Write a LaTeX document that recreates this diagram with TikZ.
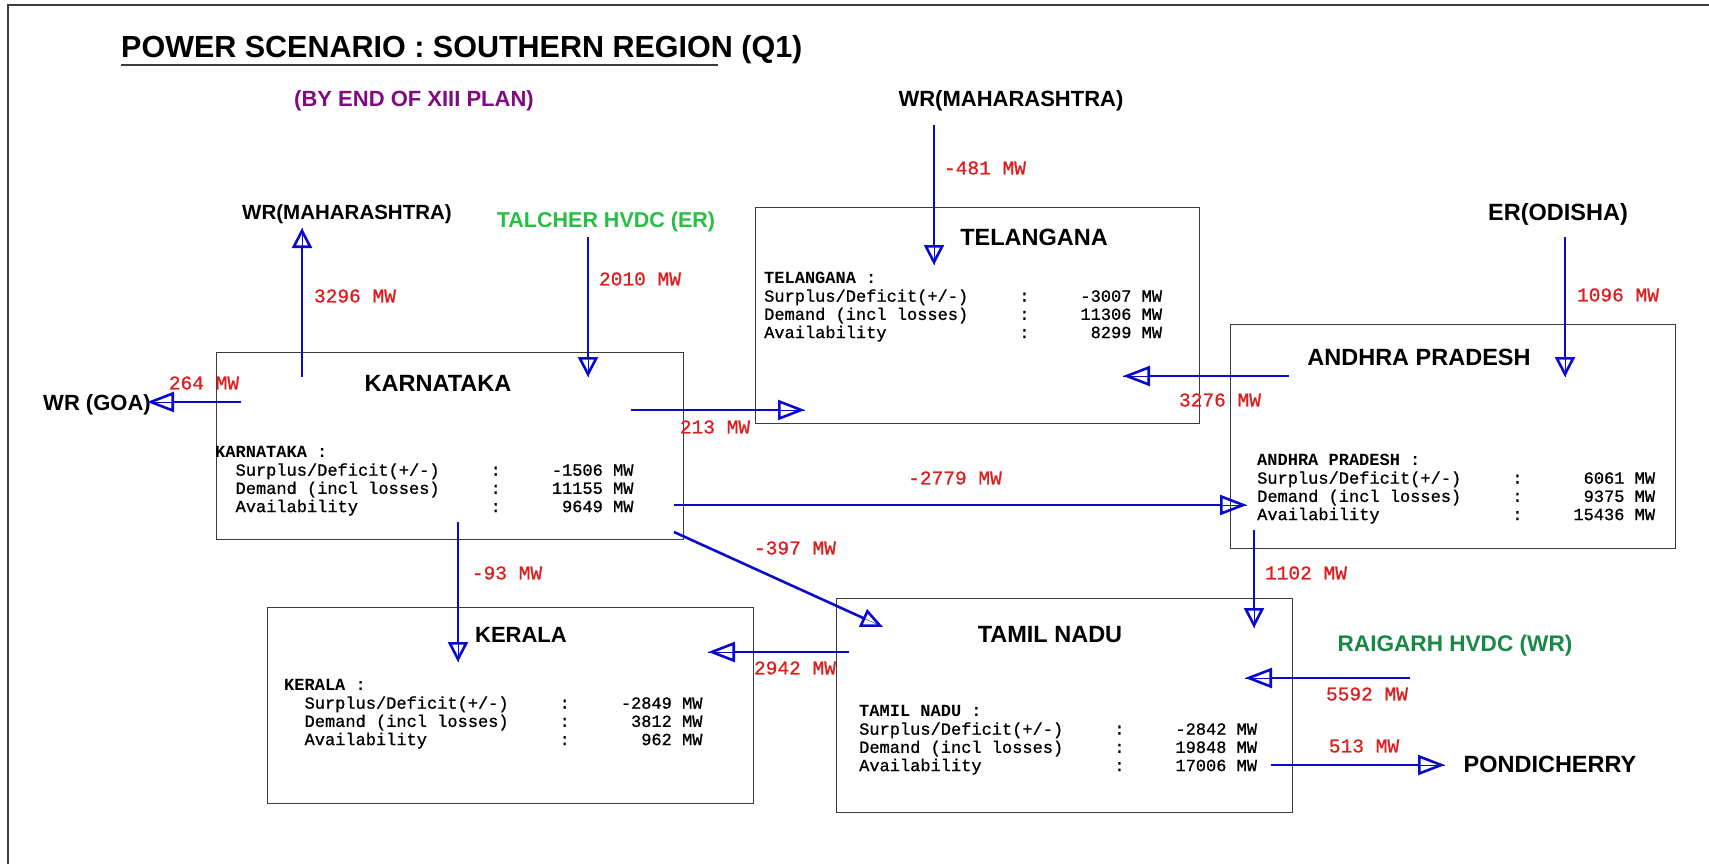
\documentclass[tikz,border=0pt]{standalone}
\usepackage{fontspec}
\setmainfont{Liberation Sans}
\newfontfamily\monof[FakeBold=0.9]{Liberation Mono}
\newfontfamily\monob{Liberation Mono Bold}
\usetikzlibrary{arrows.meta}
\definecolor{arrblue}{RGB}{10,10,205}
\definecolor{lblred}{RGB}{220,30,30}
\definecolor{planpurple}{RGB}{128,10,128}
\definecolor{talgreen}{RGB}{40,190,70}
\definecolor{raigreen}{RGB}{25,135,70}
\definecolor{boxgray}{RGB}{60,60,60}
\newcommand{\sz}[1]{\fontsize{#1}{#1}\selectfont}
\newcommand{\datasz}{\fontsize{17}{18.2}\selectfont}
\begin{document}
\begin{tikzpicture}[x=1pt,y=-1pt,
  box/.style={draw=boxgray, line width=1.4pt, inner sep=0pt, anchor=north west},
  region/.style={font=\bfseries\sz{23.5}, inner sep=0pt, anchor=base},
  flow/.style={font=\monof\sz{19.5}, text=lblred, inner sep=0pt},
  data/.style={font=\monof\datasz, inner sep=0pt, anchor=base west},
  flowline/.style={draw=arrblue, line width=2.6pt, preaction={draw=arrblue, -}},
  vflow/.style={flowline, -{Triangle[open,length=20pt,width=20pt]}},
  hflow/.style={flowline, -{Triangle[open,length=27pt,width=20pt]}},
  dflow/.style={flowline, -{Triangle[open,length=22pt,width=19pt]}}
]
\useasboundingbox (0,0) rectangle (1709,864);
\draw[boxgray, line width=2pt] (1709,5) -- (8,5) -- (8,864);

% title
\node[anchor=base west, inner sep=0pt, font=\bfseries\sz{30.5}] (title) at (121,58) {POWER SCENARIO : SOUTHERN REGION (Q1)};
\draw[boxgray, line width=2pt] (121,65) -- (718,65);
\node[region, font=\bfseries\sz{22}, text=planpurple] (plan) at (414,107) {(BY END OF XIII PLAN)};

% boxes
\node[box, minimum width=467pt, minimum height=187pt] (kar) at (216,352) {};
\node[box, minimum width=444pt, minimum height=216pt] (tel) at (755,207) {};
\node[box, minimum width=445pt, minimum height=224pt] (ap) at (1230,324) {};
\node[box, minimum width=486pt, minimum height=196pt] (ker) at (267,607) {};
\node[box, minimum width=456pt, minimum height=214pt] (tn) at (836,598) {};

% box titles
\node[region] (kart) at (438,391) {KARNATAKA};
\node[region] (telt) at (1034,245) {TELANGANA};
\node[region] (apt) at (1419,365.5) {ANDHRA PRADESH};
\node[region, font=\bfseries\sz{22}] (kert) at (521,642) {KERALA};
\node[region] (tnt) at (1050,642) {TAMIL NADU};

% data
\node[data] (kard) at (215,457.5) {\begin{tabular}[t]{@{}l@{}}\monob KARNATAKA :\\
~~Surplus/Deficit(+/-)~~~~~:~~~~~-1506 MW\\
~~Demand (incl losses)~~~~~:~~~~~11155 MW\\
~~Availability~~~~~~~~~~~~~:~~~~~~9649 MW\end{tabular}};
\node[data] (teld) at (764,283.5) {\begin{tabular}[t]{@{}l@{}}\monob TELANGANA :\\
Surplus/Deficit(+/-)~~~~~:~~~~~-3007 MW\\
Demand (incl losses)~~~~~:~~~~~11306 MW\\
Availability~~~~~~~~~~~~~:~~~~~~8299 MW\end{tabular}};
\node[data] (apd) at (1257,465.5) {\begin{tabular}[t]{@{}l@{}}\monob ANDHRA PRADESH :\\
Surplus/Deficit(+/-)~~~~~:~~~~~~6061 MW\\
Demand (incl losses)~~~~~:~~~~~~9375 MW\\
Availability~~~~~~~~~~~~~:~~~~~15436 MW\end{tabular}};
\node[data] (kerd) at (284,690.5) {\begin{tabular}[t]{@{}l@{}}\monob KERALA :\\
~~Surplus/Deficit(+/-)~~~~~:~~~~~-2849 MW\\
~~Demand (incl losses)~~~~~:~~~~~~3812 MW\\
~~Availability~~~~~~~~~~~~~:~~~~~~~962 MW\end{tabular}};
\node[data] (tnd) at (859,716.5) {\begin{tabular}[t]{@{}l@{}}\monob TAMIL NADU :\\
Surplus/Deficit(+/-)~~~~~:~~~~~-2842 MW\\
Demand (incl losses)~~~~~:~~~~~19848 MW\\
Availability~~~~~~~~~~~~~:~~~~~17006 MW\end{tabular}};

% external regions
\node[region, font=\bfseries\sz{20.5}] (wrma) at (347,219) {WR(MAHARASHTRA)};
\node[region, font=\bfseries\sz{22}] (wrmb) at (1011,107) {WR(MAHARASHTRA)};
\node[region, font=\bfseries\sz{21.5}, text=talgreen] (tal) at (606,227) {TALCHER HVDC (ER)};
\node[region] (er) at (1558,220) {ER(ODISHA)};
\node[region, font=\bfseries\sz{22}] (goa) at (97,410) {WR (GOA)};
\node[region, font=\bfseries\sz{22.6}, text=raigreen] (rai) at (1455,651) {RAIGARH HVDC (WR)};
\node[region] (pon) at (1550,772) {PONDICHERRY};

% connector ends
\coordinate (kar-wrma-s) at (302,377);  \coordinate (kar-wrma-e) at (302,228);
\coordinate (tal-kar-s) at (588,237);   \coordinate (tal-kar-e) at (588,377);
\coordinate (wrmb-tel-s) at (934,125);  \coordinate (wrmb-tel-e) at (934,265);
\coordinate (er-ap-s) at (1565,237);    \coordinate (er-ap-e) at (1565,377);
\coordinate (kar-goa-s) at (241,402);   \coordinate (kar-goa-e) at (147,402);
\coordinate (kar-tel-s) at (631,410);   \coordinate (kar-tel-e) at (805,410);
\coordinate (ap-tel-s) at (1289,376);   \coordinate (ap-tel-e) at (1123,376);
\coordinate (kar-ap-s) at (674,505);    \coordinate (kar-ap-e) at (1247,505);
\coordinate (kar-tn-s) at (674,532);    \coordinate (kar-tn-e) at (883,627);
\coordinate (kar-ker-s) at (458,522);   \coordinate (kar-ker-e) at (458,662);
\coordinate (tn-ker-s) at (849,652);    \coordinate (tn-ker-e) at (708,652);
\coordinate (ap-tn-s) at (1254,530);    \coordinate (ap-tn-e) at (1254,628);
\coordinate (rai-tn-s) at (1410,678);   \coordinate (rai-tn-e) at (1245,678);
\coordinate (tn-pon-s) at (1271,765);   \coordinate (tn-pon-e) at (1445,765);

% connectors
\draw[vflow] (kar-wrma-s) -- (kar-wrma-e);
\draw[vflow] (tal-kar-s) -- (tal-kar-e);
\draw[vflow] (wrmb-tel-s) -- (wrmb-tel-e);
\draw[vflow] (er-ap-s) -- (er-ap-e);
\draw[hflow] (kar-goa-s) -- (kar-goa-e);
\draw[hflow] (kar-tel-s) -- (kar-tel-e);
\draw[hflow] (ap-tel-s) -- (ap-tel-e);
\draw[hflow] (kar-ap-s) -- (kar-ap-e);
\draw[dflow] (kar-tn-s) -- (kar-tn-e);
\draw[vflow] (kar-ker-s) -- (kar-ker-e);
\draw[hflow] (tn-ker-s) -- (tn-ker-e);
\draw[vflow] (ap-tn-s) -- (ap-tn-e);
\draw[hflow] (rai-tn-s) -- (rai-tn-e);
\draw[hflow] (tn-pon-s) -- (tn-pon-e);

% flow labels
\node[flow] (l3296) at (355,296) {3296 MW};
\node[flow] (l2010) at (640,279) {2010 MW};
\node[flow] (l481) at (985,168) {-481 MW};
\node[flow] (l1096) at (1618,295) {1096 MW};
\node[flow] (l264) at (204,383) {264 MW};
\node[flow] (l213) at (715,427) {213 MW};
\node[flow] (l3276) at (1220,400) {3276 MW};
\node[flow] (l2779) at (955,478) {-2779 MW};
\node[flow] (l397) at (795,548) {-397 MW};
\node[flow] (l93) at (507,573) {-93 MW};
\node[flow] (l1102) at (1306,573) {1102 MW};
\node[flow] (l2942) at (795,668) {2942 MW};
\node[flow] (l5592) at (1367,694) {5592 MW};
\node[flow] (l513) at (1364,746) {513 MW};
\end{tikzpicture}
\end{document}
